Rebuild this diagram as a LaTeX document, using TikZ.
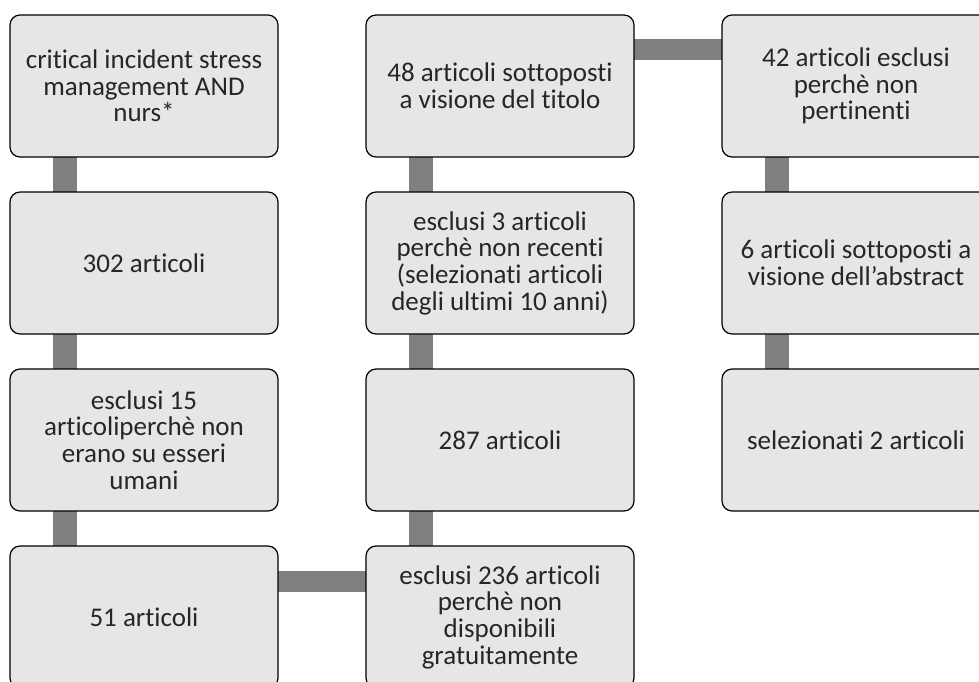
\documentclass[tikz,border=0pt]{standalone}
\usepackage{fontspec}
\setmainfont{Carlito}[Ligatures={NoCommon}]
\usetikzlibrary{positioning, backgrounds}

\definecolor{boxgray}{HTML}{E6E6E6}
\definecolor{bargray}{HTML}{808080}

\tikzset{
    stepbox/.style={rectangle, draw, rounded corners=10pt, line width=1.2pt, fill=boxgray, text centered, align=center, minimum width=268pt, minimum height=142pt, inner sep=0pt, outer sep=0pt, text=black!85, font=\fontsize{27}{26.7}\selectfont},
    vbar/.style={draw=bargray, line width=24pt},
    hbar/.style={draw=bargray, line width=21pt}
}

\begin{document}
\begin{tikzpicture}[x=1pt, y=-1pt, node distance=35pt and 88pt]
        \useasboundingbox (0,0) rectangle (979,682);

        % Define nodes
        \node (query) [stepbox, anchor=north west] at (10,15) {critical incident stress\\management AND\\nurs*};
        \node (found) [stepbox, below=of query] {302 articoli};
        \node (nohuman) [stepbox, below=of found] {esclusi 15\\articoliperchè non\\erano su esseri\\umani};
        \node (left51) [stepbox, below=of nohuman] {51 articoli};
        \node (title) [stepbox, right=of query] {48 articoli sottoposti\\a visione del titolo};
        \node (old) [stepbox, below=of title] {esclusi 3 articoli\\perchè non recenti\\(selezionati articoli\\degli ultimi 10 anni)};
        \node (left287) [stepbox, below=of old] {287 articoli};
        \node (notfree) [stepbox, below=of left287] {esclusi 236 articoli\\perchè non\\disponibili\\gratuitamente};
        \node (notpert) [stepbox, right=of title] {42 articoli esclusi\\perchè non\\pertinenti};
        \node (abstract) [stepbox, below=of notpert] {6 articoli sottoposti a\\visione dell'abstract};
        \node (selected) [stepbox, below=of abstract] {selezionati 2 articoli};

        % Draw connectors
        \begin{pgfonlayer}{background}
        \draw[vbar] ([xshift=55pt]query.south west) -- ([xshift=55pt]found.north west);
        \draw[vbar] ([xshift=55pt]found.south west) -- ([xshift=55pt]nohuman.north west);
        \draw[vbar] ([xshift=55pt]nohuman.south west) -- ([xshift=55pt]left51.north west);
        \draw[hbar] ([yshift=-35pt]left51.north east) -- ([yshift=-35pt]notfree.north west);
        \draw[vbar] ([xshift=55pt]notfree.north west) -- ([xshift=55pt]left287.south west);
        \draw[vbar] ([xshift=55pt]left287.north west) -- ([xshift=55pt]old.south west);
        \draw[vbar] ([xshift=55pt]old.north west) -- ([xshift=55pt]title.south west);
        \draw[hbar] ([yshift=-35pt]title.north east) -- ([yshift=-35pt]notpert.north west);
        \draw[vbar] ([xshift=55pt]notpert.south west) -- ([xshift=55pt]abstract.north west);
        \draw[vbar] ([xshift=55pt]abstract.south west) -- ([xshift=55pt]selected.north west);
        \end{pgfonlayer}
    \end{tikzpicture}
\end{document}
